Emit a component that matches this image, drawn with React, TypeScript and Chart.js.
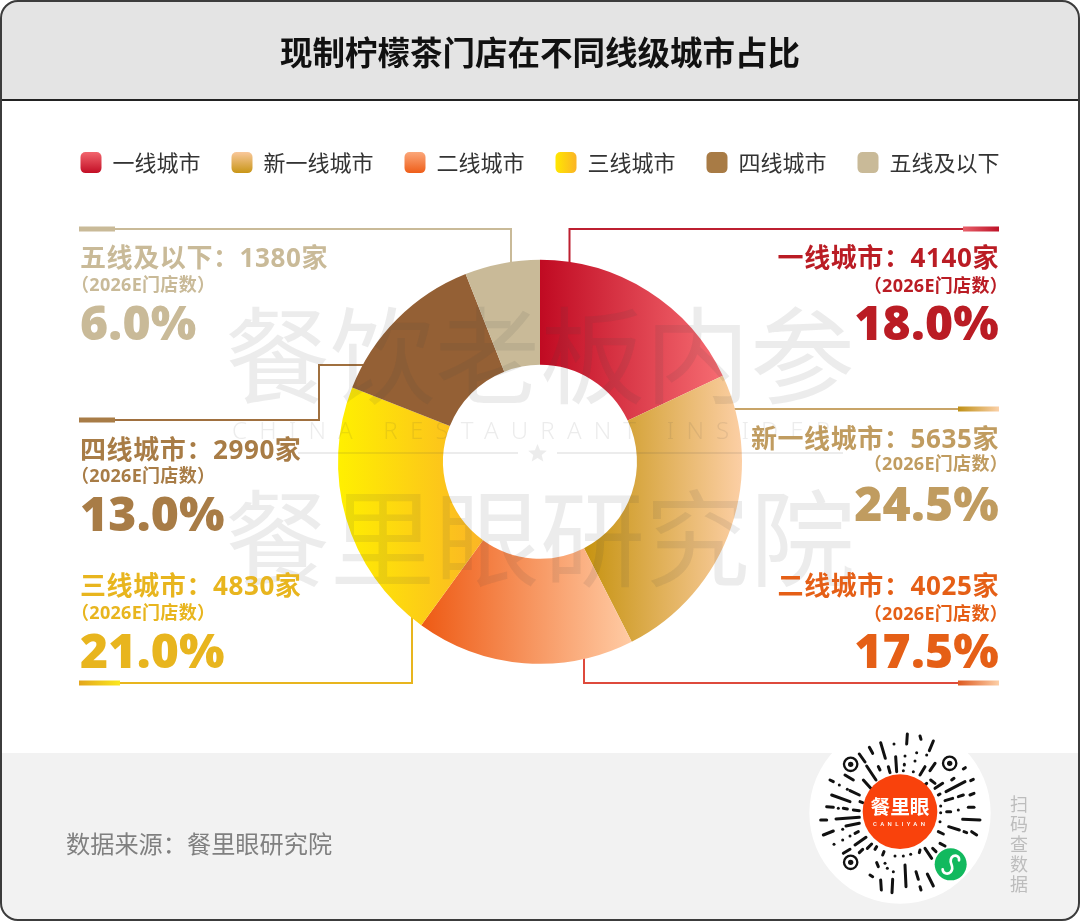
import React, { useEffect, useRef } from "react";
import { Chart, registerables } from "chart.js";

Chart.register(...registerables);

// ---------- data ----------
const titleText = "现制柠檬茶门店在不同线级城市占比";
const categories = ["一线城市", "新一线城市", "二线城市", "三线城市", "四线城市", "五线及以下"];
const stores = [4140, 5635, 4025, 4830, 2990, 1380];
const shares = [18.0, 24.5, 17.5, 21.0, 13.0, 6.0];
const subLabel = "（2026E门店数）";
const sourceText = "数据来源：餐里眼研究院";
const scanText = ["扫", "码", "查", "数", "据"];

// ---------- styles ----------
const CJK = '"Noto Sans CJK SC", "Noto Sans", sans-serif';
const MIXED = '"Open Sans", "Noto Sans CJK SC", sans-serif';
const sliceStops = [
  ["#C00A22", "#F66C72"],
  ["#C69310", "#FCCFA5"],
  ["#EE5A14", "#FFCBA4"],
  ["#FFF000", "#FBB525"],
  ["#946035", "#946035"],
  ["#C9BA98", "#C9BA98"],
];
// [x0, y0, x1, y1, from, to], canvas pixels of each legend swatch's gradient
const swatchGrad: [number, number, number, number, string, string][] = [
  [0, 152, 0, 174, "#F2666E", "#C00A22"],
  [0, 152, 0, 174, "#F9C89B", "#C69310"],
  [0, 152, 0, 174, "#FBA77A", "#EE5A14"],
  [555, 0, 576, 0, "#FFE800", "#FBB525"],
  [0, 152, 0, 174, "#A87B45", "#A87B45"],
  [0, 152, 0, 174, "#C9BA98", "#C9BA98"],
];
const labelColors = ["#BA1C24", "#C09C60", "#E55F16", "#E8B51E", "#A87C46", "#C9BA98"];
const calloutPos = [
  { side: "r", y: [257, 286, 322] },
  { side: "r", y: [438, 464, 503] },
  { side: "r", y: [585, 614, 650] },
  { side: "l", y: [585, 613, 650] },
  { side: "l", y: [449, 476, 513] },
  { side: "l", y: [257, 285, 322] },
];
const leaders = [
  { d: "M963 229H569.5V270", color: "#BD1F30", bar: [963, 229, 999], stops: ["#E8606A", "#BE1228"] },
  { d: "M958 409H730", color: "#C8A468", bar: [958, 409, 999], stops: ["#BF9015", "#FBD0A8"] },
  { d: "M958 683H584V650", color: "#DE4A3C", bar: [958, 683, 999], stops: ["#DE5A20", "#FDD0A8"] },
  { d: "M120 683H412V610", color: "#E8B51E", bar: [79, 683, 120], stops: ["#E3A51C", "#FBE81E"] },
  { d: "M115 420H319V365H380", color: "#A0703F", bar: [79, 420, 115], stops: ["#A87C46", "#A87C46"] },
  { d: "M115 229H511V270", color: "#C9BA98", bar: [79, 229, 115], stops: ["#C9BA98", "#C9BA98"] },
];

// QR decoration, drawn in a 540 unit box
const qrDashes = [
  [292,12,290,42],[330,18,333,28],[370,33,358,62],[252,42,252,42],[212,38,226,85],[178,52,188,70],[148,72,165,96],
  [257,80,260,125],[285,78,285,78],[320,68,320,68],[350,75,350,75],[283,103,283,105],[315,93,315,93],[280,122,280,122],
  [345,110,330,135],[310,125,310,125],[375,100,360,122],[205,110,210,120],[170,108,198,150],[235,110,240,128],
  [105,135,130,150],[160,150,185,178],[60,150,70,155],[88,165,88,165],[112,178,112,178],[120,182,148,195],[65,195,120,215],
  [50,230,70,232],[85,235,85,235],[100,235,112,237],[130,240,148,242],[32,270,50,270],[78,267,148,262],[108,288,148,280],
  [40,315,70,303],[98,298,98,298],[98,330,98,330],[120,318,120,318],[135,310,145,305],[72,343,72,343],[135,345,168,322],
  [100,370,120,358],[148,368,158,358],[185,342,172,355],[195,358,200,350],[218,375,222,365],[255,378,255,378],[280,378,280,378],
  [302,373,302,373],[328,368,330,360],[345,355,365,385],[368,355,378,365],[390,340,405,348],[385,305,400,312],[416,290,448,300],
  [462,305,470,308],[485,305,500,315],[458,268,510,270],[475,232,492,232],[405,212,428,205],[445,200,460,195],[480,195,492,190],
  [408,185,465,155],[482,152,490,148],[375,175,398,160],[460,117,466,113],[425,150,432,145],[362,150,375,160],
  [200,398,205,410],[180,435,188,440],[212,450,214,480],[250,425,250,425],[248,448,246,488],[285,405,288,470],
  [318,425,325,448],[330,470,333,480],[352,432,370,468],[225,400,225,400],[232,415,232,415],[392,228,392,228],[392,248,392,248],
  [390,275,390,275],[410,245,422,245],[445,240,445,240],[385,195,390,192],[340,170,350,160],[205,165,215,170],[150,215,158,218],
];
const qrEyes = [[122, 103], [419, 100], [122, 397]];

function sliceGradient(c: any) {
  const chart = c.chart;
  const i = c.dataIndex;
  const [from, to] = sliceStops[i];
  const area = chart.chartArea;
  const meta = chart.getDatasetMeta(0);
  if (!area || !meta) return from;
  const outer = meta.controller.outerRadius || 202;
  const inner = meta.controller.innerRadius || 97;
  const cx = (area.left + area.right) / 2;
  const total = shares.reduce((a, b) => a + b, 0);
  const before = shares.slice(0, i).reduce((a, b) => a + b, 0);
  const a0 = (before / total) * Math.PI * 2;
  const a1 = ((before + shares[i]) / total) * Math.PI * 2;
  const xs = [a0, a1].flatMap((a) => [cx + outer * Math.sin(a), cx + inner * Math.sin(a)]);
  if (a0 < Math.PI / 2 && a1 > Math.PI / 2) xs.push(cx + outer);
  if (a0 < (3 * Math.PI) / 2 && a1 > (3 * Math.PI) / 2) xs.push(cx - outer);
  const g = chart.ctx.createLinearGradient(Math.min(...xs), 0, Math.max(...xs), 0);
  g.addColorStop(0, from);
  g.addColorStop(1, to);
  return g;
}

export default function App() {
  const ref = useRef<HTMLCanvasElement>(null);
  useEffect(() => {
    const chart = new Chart(ref.current as HTMLCanvasElement, {
      type: "doughnut",
      data: {
        labels: categories,
        datasets: [{ data: shares, backgroundColor: sliceGradient as any, borderWidth: 0, hoverOffset: 0 }],
      },
      options: {
        responsive: false,
        animation: false,
        cutout: "48%",
        radius: 202,
        layout: { padding: { top: 0, left: 0, right: 0, bottom: 181 } },
        events: [],
        plugins: {
          tooltip: { enabled: false },
          title: {
            display: true,
            text: titleText,
            color: "#111111",
            font: { family: CJK, size: 32.5, weight: "bold" },
            padding: { top: 33, bottom: 48.6 },
          },
          legend: {
            position: "top",
            labels: {
              color: "#333333",
              font: { family: CJK, size: 22 },
              boxWidth: 21,
              boxHeight: 21,
              padding: 31,
              useBorderRadius: true,
              borderRadius: 5,
              generateLabels: (ch: any) =>
                categories.map((text, index) => {
                  const [x0, y0, x1, y1, a, b] = swatchGrad[index];
                  const g = ch.ctx.createLinearGradient(x0, y0, x1, y1);
                  g.addColorStop(0, a);
                  g.addColorStop(1, b);
                  return {
                    text,
                    index,
                    fillStyle: g,
                    strokeStyle: "transparent",
                    lineWidth: 0,
                    hidden: false,
                    fontColor: "#333333",
                    borderRadius: 5,
                  };
                }),
            },
          },
        },
      } as any,
    });
    return () => chart.destroy();
  }, []);

  const abs: React.CSSProperties = { position: "absolute" };
  const wm: React.CSSProperties = {
    ...abs,
    left: 222,
    width: 636,
    textAlign: "center",
    fontFamily: CJK,
    fontSize: 105,
    lineHeight: "105px",
    whiteSpace: "nowrap",
    color: "rgba(70,70,70,0.1)",
  };

  return (
    <div style={{ position: "fixed", left: 0, top: 0, width: 1080, height: 921, background: "#fff", overflow: "hidden", fontFamily: CJK }}>
      {/* panel */}
      <div style={{ ...abs, left: 0, top: 99, width: 1080, height: 2, background: "#222" }} />
      <div style={{ ...abs, left: 0, top: 0, width: 1080, height: 99, background: "#E4E4E4", borderRadius: "18px 18px 0 0" }} />
      <div style={{ ...abs, left: 0, top: 753, width: 1080, height: 168, background: "#F2F2F2", borderRadius: "0 0 18px 18px" }} />

      {/* leaders sit behind the ring */}
      <svg width={1080} height={921} style={{ ...abs, left: 0, top: 0 }}>
        <defs>
          {leaders.map((l, i) => (
            <linearGradient key={i} id={`bar${i}`} x1="0" x2="1" y1="0" y2="0">
              <stop offset="0" stopColor={l.stops[0]} />
              <stop offset="1" stopColor={l.stops[1]} />
            </linearGradient>
          ))}
        </defs>
        {leaders.map((l, i) => (
          <g key={i}>
            <path d={l.d} fill="none" stroke={l.color} strokeWidth={2} />
            <rect x={l.bar[0]} y={l.bar[1] - 2.5} width={l.bar[2] - l.bar[0]} height={5} fill={`url(#bar${i})`} />
          </g>
        ))}
      </svg>

      <canvas ref={ref} width={1080} height={921} style={{ ...abs, left: 0, top: 0 }} />

      {/* watermark over the ring */}
      <div style={{ ...wm, top: 297 }}>餐饮老板内参</div>
      <div style={{ ...wm, top: 480 }}>餐里眼研究院</div>
      <div
        style={{
          ...abs,
          left: 232,
          top: 417,
          width: 660,
          fontFamily: '"Noto Sans", sans-serif',
          fontWeight: 300,
          fontSize: 24,
          lineHeight: "26px",
          letterSpacing: 12.2,
          whiteSpace: "nowrap",
          color: "rgba(70,70,70,0.1)",
        }}
      >
        CHINA RESTAURANT INSIDER
      </div>
      <svg width={1080} height={921} style={{ ...abs, left: 0, top: 0 }}>
        <path d="M298 453H518M557 453H843" stroke="rgba(70,70,70,0.1)" strokeWidth={2} />
        <path d="M537.5 444l2.6 6.2 6.7.5-5.1 4.4 1.6 6.5-5.8-3.5-5.8 3.5 1.6-6.5-5.1-4.4 6.7-.5z" fill="rgba(70,70,70,0.1)" />
      </svg>

      {/* callouts */}
      {categories.map((cat, i) => {
        const p = calloutPos[i];
        const color = labelColors[i];
        const lines = [
          { t: `${cat}：${stores[i]}家`, size: 26, off: 0, w: 700, ls: 0.6 },
          { t: subLabel, size: 18, off: 9, w: 700, ls: 0.3 },
          { t: `${shares[i].toFixed(1)}%`, size: 48, off: 0, w: 800, ls: 0.2 },
        ];
        return lines.map((ln, j) => (
          <div
            key={`${i}-${j}`}
            style={{
              ...abs,
              top: p.y[j],
              transform: "translateY(-50%)",
              ...(p.side === "r" ? { right: 81 - ln.off, textAlign: "right" as const } : { left: 80 - ln.off }),
              fontFamily: MIXED,
              fontSize: ln.size,
              fontWeight: ln.w,
              letterSpacing: ln.ls,
              lineHeight: 1.1,
              color,
              whiteSpace: "nowrap",
            }}
          >
            {ln.t}
          </div>
        ));
      })}

      {/* footer */}
      <div style={{ ...abs, left: 66, top: 843, transform: "translateY(-50%)", fontSize: 24.2, lineHeight: 1.1, color: "#808080", whiteSpace: "nowrap" }}>
        {sourceText}
      </div>
      <div style={{ ...abs, left: 1009, top: 793, width: 20, fontSize: 18, lineHeight: "20px", color: "#BDBDBD", textAlign: "center" }}>
        {scanText.map((c) => (
          <div key={c}>{c}</div>
        ))}
      </div>

      {/* mini program code */}
      <svg width={182} height={182} viewBox="0 0 546 546" style={{ ...abs, left: 809, top: 722 }}>
        <circle cx={273} cy={273} r={272} fill="#fff" />
        <g transform="translate(3,24)">
          {qrDashes.map((d, i) => (
            <line key={i} x1={d[0]} y1={d[1]} x2={d[2]} y2={d[3] + (d[0] === d[2] && d[1] === d[3] ? 0.1 : 0)} stroke="#111" strokeWidth={9} strokeLinecap="round" />
          ))}
          {qrEyes.map(([x, y], i) => (
            <g key={i}>
              <circle cx={x} cy={y} r={20} fill="none" stroke="#111" strokeWidth={7} />
              <circle cx={x} cy={y} r={8} fill="#111" />
            </g>
          ))}
          <circle cx={270} cy={245} r={112} fill="#F9420C" />
          <text x={270} y={252} textAnchor="middle" fontFamily={CJK} fontWeight={700} fontSize={59} fill="#fff">餐里眼</text>
          <text x={272} y={288} textAnchor="middle" fontFamily="Roboto, sans-serif" fontWeight={500} fontSize={18} letterSpacing={10} fill="#fff">CANLIYAN</text>
          <circle cx={422} cy={403} r={48} fill="#12B95E" />
          <path d="M398 418c0 12 14 17 24 8 6-6 6-14 2-24-4-9-2-20 6-24 9-4 19 2 17 13" fill="none" stroke="#fff" strokeWidth={8} strokeLinecap="round" />
        </g>
      </svg>

      {/* frame */}
      <div style={{ ...abs, left: 0, top: 0, width: 1080, height: 921, boxSizing: "border-box", border: "2px solid #3C3C3C", borderRadius: 18 }} />
    </div>
  );
}
